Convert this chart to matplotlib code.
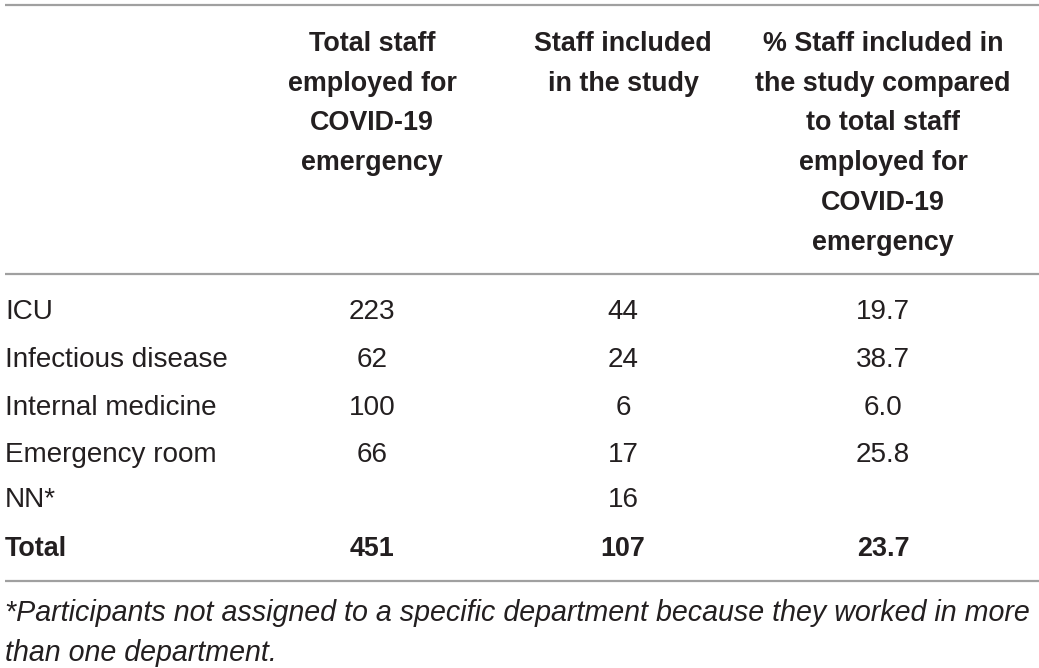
import matplotlib
matplotlib.use("Agg")
import matplotlib.pyplot as plt

plt.rcParams['font.family'] = ['Liberation Sans', 'DejaVu Sans']

headers = ["Total staff\nemployed for\nCOVID-19\nemergency",
           "Staff included\nin the study",
           "% Staff included in\nthe study compared\nto total staff\nemployed for\nCOVID-19\nemergency"]
departments = ["ICU", "Infectious disease", "Internal medicine", "Emergency room", "NN*"]
total_staff = ["223", "62", "100", "66", ""]
staff_included = ["44", "24", "6", "17", "16"]
pct_included = ["19.7", "38.7", "6.0", "25.8", ""]
total_row = ["Total", "451", "107", "23.7"]
footnote_lines = ["*Participants not assigned to a specific department because they worked in more",
                  "than one department."]

W, H = 1039, 668
fig = plt.figure(figsize=(W / 100, H / 100), dpi=100)
ax = fig.add_axes([0, 0, 1, 1])
ax.set_xlim(0, W)
ax.set_ylim(H, 0)
ax.axis('off')

fs_bold = 19.4
fs_reg = 20.1
fs_it = 20.6
line_col = '#a0a0a0'
txt_col = '#231f20'
col_x = [372, 623, 883]

for y in [5, 274, 581]:
    ax.plot([5, W], [y, y], color=line_col, lw=1.6, solid_capstyle='butt')

line_h = 39.7
for cx, h in zip(col_x, headers):
    for i, ln in enumerate(h.split("\n")):
        ax.text(cx, 41 + i * line_h, ln, ha='center', va='center_baseline', fontsize=fs_bold,
                fontweight='bold', color=txt_col)

row_y = [309, 357, 405, 452, 497]
for y, d, a, b, c in zip(row_y, departments, total_staff, staff_included, pct_included):
    ax.text(5, y, d, ha='left', va='center_baseline', fontsize=fs_reg, color=txt_col)
    for cx, v in zip(col_x, [a, b, c]):
        ax.text(cx, y, v, ha='center', va='center_baseline', fontsize=fs_reg, color=txt_col)

ty = 546
ax.text(5, ty, total_row[0], ha='left', va='center_baseline', fontsize=fs_bold, fontweight='bold', color=txt_col)
for cx, v in zip(col_x, total_row[1:]):
    ax.text(cx, ty, v, ha='center', va='center_baseline', fontsize=fs_bold, fontweight='bold', color=txt_col)

for i, ln in enumerate(footnote_lines):
    ax.text(5, 610 + i * 40, ln, ha='left', va='center_baseline', fontsize=fs_it, style='italic',
            color=txt_col)

fig.savefig('out.png', dpi=100)
